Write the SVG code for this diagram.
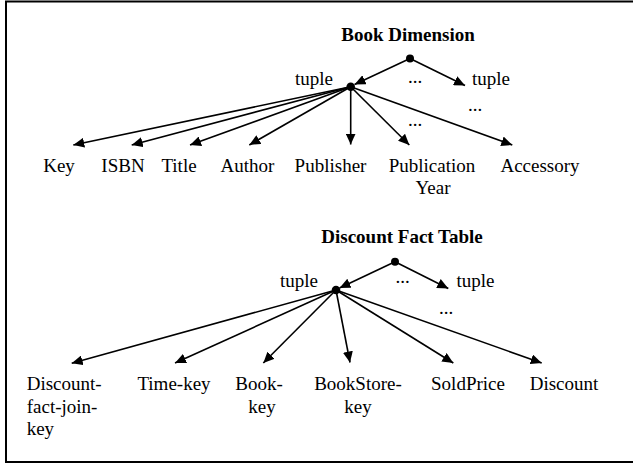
<svg xmlns="http://www.w3.org/2000/svg" width="633" height="466" viewBox="0 0 633 466">
  <defs>
    <style>
      text { font-family: "Liberation Serif", "Times New Roman", serif; font-size: 19px; fill: #000; }
      .title { font-weight: bold; }
      .mid { text-anchor: middle; }
      .edge { stroke: #000; stroke-width: 1.6; fill: none; marker-end: url(#arrow); }
      .dot { fill: #000; }
    </style>
    <marker id="arrow" viewBox="0 0 11 10" refX="11" refY="5" markerWidth="11" markerHeight="10" markerUnits="userSpaceOnUse" orient="auto">
      <path d="M0,0 L11,5 L0,10 z" fill="#000"/>
    </marker>
  </defs>

  <rect width="633" height="466" fill="#fff"/>
  <!-- frame: open on the right -->
  <path d="M640,1.5 H6 V462 H640" fill="none" stroke="#000" stroke-width="2"/>

  <!-- Book Dimension tree -->
  <g id="book-dimension">
    <text class="title mid" x="408" y="40.5">Book Dimension</text>
    <circle class="dot" cx="410" cy="58.5" r="4"/>
    <circle class="dot" cx="350.7" cy="86.7" r="4.3"/>
    <text x="295" y="85">tuple</text>
    <text x="472" y="85">tuple</text>
    <text class="mid" x="415" y="83">...</text>
    <text class="mid" x="475" y="111">...</text>
    <text class="mid" x="415" y="126">...</text>
  </g>
  <g id="book-key"><text class="mid" x="59" y="172">Key</text></g>
  <g id="book-isbn"><text class="mid" x="123" y="172">ISBN</text></g>
  <g id="book-title"><text class="mid" x="179" y="172">Title</text></g>
  <g id="book-author"><text class="mid" x="247.5" y="172">Author</text></g>
  <g id="book-publisher"><text class="mid" x="330.5" y="172">Publisher</text></g>
  <g id="book-publication-year"><text class="mid" x="432" y="172">Publication</text><text class="mid" x="433" y="193.5">Year</text></g>
  <g id="book-accessory"><text class="mid" x="540" y="172">Accessory</text></g>

  <!-- Discount Fact Table tree -->
  <g id="discount-fact-table">
    <text class="title mid" x="402" y="243">Discount Fact Table</text>
    <circle class="dot" cx="395" cy="261.7" r="4"/>
    <circle class="dot" cx="336" cy="290" r="4.3"/>
    <text x="280" y="286.5">tuple</text>
    <text x="456.5" y="287">tuple</text>
    <text class="mid" x="402.7" y="283">...</text>
    <text class="mid" x="446" y="314">...</text>
  </g>
  <g id="fact-join-key"><text x="26.7" y="390">Discount-</text><text x="26.7" y="412.5">fact-join-</text><text x="26.7" y="435">key</text></g>
  <g id="fact-time-key"><text class="mid" x="174" y="390">Time-key</text></g>
  <g id="fact-book-key"><text class="mid" x="259" y="390">Book-</text><text class="mid" x="262" y="412.5">key</text></g>
  <g id="fact-bookstore-key"><text class="mid" x="358" y="390">BookStore-</text><text class="mid" x="358" y="412.5">key</text></g>
  <g id="fact-soldprice"><text class="mid" x="468" y="390">SoldPrice</text></g>
  <g id="fact-discount"><text class="mid" x="564" y="390">Discount</text></g>

  <!-- connectors -->
  <g id="connectors">
    <line class="edge" x1="410" y1="58.5" x2="354.5" y2="84.5"/>
    <line class="edge" x1="410" y1="58.5" x2="465" y2="85.5"/>
    <line class="edge" x1="350.7" y1="86.7" x2="73.3" y2="145"/>
    <line class="edge" x1="350.7" y1="86.7" x2="131.7" y2="145"/>
    <line class="edge" x1="350.7" y1="86.7" x2="190" y2="145"/>
    <line class="edge" x1="350.7" y1="86.7" x2="249.3" y2="145"/>
    <line class="edge" x1="350.7" y1="86.7" x2="350.7" y2="144.5"/>
    <line class="edge" x1="350.7" y1="86.7" x2="409.3" y2="145"/>
    <line class="edge" x1="350.7" y1="86.7" x2="512.3" y2="145"/>

    <line class="edge" x1="395" y1="261.7" x2="339.5" y2="288"/>
    <line class="edge" x1="395" y1="261.7" x2="448.3" y2="288.5"/>
    <line class="edge" x1="336" y1="290" x2="71.7" y2="363.3"/>
    <line class="edge" x1="336" y1="290" x2="175" y2="363"/>
    <line class="edge" x1="336" y1="290" x2="263.3" y2="363"/>
    <line class="edge" x1="336" y1="290" x2="350" y2="362.5"/>
    <line class="edge" x1="336" y1="290" x2="453.3" y2="363"/>
    <line class="edge" x1="336" y1="290" x2="541.7" y2="363"/>
  </g>
</svg>
